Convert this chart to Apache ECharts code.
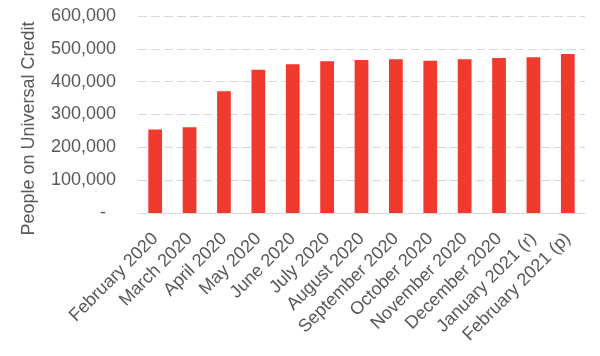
<!DOCTYPE html>
<html>
<head>
<meta charset="utf-8">
<script src="https://cdn.jsdelivr.net/npm/echarts@6/dist/echarts.min.js"></script>
<style>html,body{margin:0;padding:0;background:#fff}#c{width:600px;height:356px}</style>
</head>
<body>
<div id="c"></div>
<script>
const categories = ['February 2020','March 2020','April 2020','May 2020','June 2020','July 2020','August 2020','September 2020','October 2020','November 2020','December 2020','January 2021 (r)','February 2021 (p)'];
const values = [254000, 261000, 371000, 436000, 453000, 462000, 466000, 468000, 464000, 468000, 472000, 474000, 484000];
const yTicks = [0, 100000, 200000, 300000, 400000, 500000, 600000];
const yAxisName = 'People on Universal Credit';

const chart = echarts.init(document.getElementById('c'), null, {renderer: 'canvas'});
const font = 'Arial, "Liberation Sans", sans-serif';
chart.setOption({
  animation: false,
  grid: {left: 138, right: 15, top: 16, bottom: 143, containLabel: false},
  xAxis: {
    type: 'category',
    data: categories,
    axisLine: {show: true, lineStyle: {color: '#d9d9d9', width: 1}},
    axisTick: {show: false},
    axisLabel: {rotate: 45, interval: 0, margin: 23, color: '#595959', fontSize: 18, fontFamily: font}
  },
  yAxis: {
    type: 'value',
    min: yTicks[0],
    max: yTicks[yTicks.length - 1],
    interval: yTicks[1] - yTicks[0],
    name: yAxisName,
    nameLocation: 'middle',
    nameGap: 100,
    nameTextStyle: {color: '#595959', fontSize: 18, fontFamily: font, padding: [0, 28, 0, 0]},
    axisLine: {show: false},
    axisTick: {show: false},
    splitLine: {show: true, lineStyle: {color: '#d9d9d9', width: 1, type: [9, 4]}},
    axisLabel: {
      margin: 22, color: '#595959', fontSize: 18, fontFamily: font,
      formatter: function (v) { return v === 0 ? '-  ' : v.toLocaleString('en-US'); }
    }
  },
  series: [{
    type: 'bar',
    data: values,
    barWidth: '40%',
    itemStyle: {color: '#F03A2E'}
  }]
});
</script>
</body>
</html>
